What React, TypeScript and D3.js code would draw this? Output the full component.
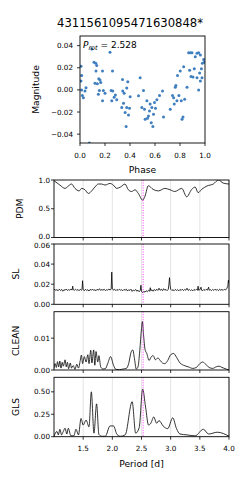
import React from 'react';
import * as d3 from 'd3';

// folded light curve: [phase, magnitude]
const phasePoints: [number, number][] = [
  [0.008, 0.0214], [0.013, 0.013], [0.008, 0.008], [0.013, 0.0], [0.019, -0.005],
  [0.027, -0.007], [0.04, -0.001], [0.048, 0.002], [0.075, -0.048], [0.094, 0.037],
  [0.112, 0.025], [0.126, 0.024], [0.134, 0.022], [0.128, 0.017], [0.12, 0.006],
  [0.139, 0.0055], [0.15, 0.01], [0.16, 0.009], [0.166, 0.0067], [0.155, -0.0006],
  [0.147, -0.004], [0.18, 0.017], [0.187, -0.0006], [0.18, -0.0098], [0.2, -0.003],
  [0.24, 0.034], [0.26, 0.017], [0.249, -0.0006], [0.262, -0.001], [0.254, -0.0098],
  [0.273, -0.0067], [0.283, -0.0046], [0.294, -0.009], [0.34, 0.0095], [0.342, -0.001],
  [0.353, -0.003], [0.374, 0.0018], [0.382, 0.0073], [0.374, -0.016], [0.348, -0.012],
  [0.334, -0.016], [0.361, -0.0205], [0.369, -0.033], [0.388, -0.0226], [0.396, -0.0165],
  [0.401, -0.0061], [0.481, 0.011], [0.468, -0.0052], [0.508, -0.0006], [0.495, -0.016],
  [0.516, -0.0174], [0.535, -0.0098], [0.521, -0.0266], [0.54, -0.0256], [0.548, -0.0235],
  [0.556, -0.019], [0.561, -0.0128], [0.575, -0.016], [0.57, -0.0296], [0.583, -0.033],
  [0.588, -0.022], [0.596, -0.0113], [0.604, -0.0165], [0.615, -0.009], [0.636, -0.005],
  [0.66, -0.001], [0.668, -0.0244], [0.722, -0.0174], [0.74, -0.005], [0.749, -0.007],
  [0.762, 0.0024], [0.767, 0.004], [0.754, -0.0128], [0.775, -0.0098], [0.791, -0.005],
  [0.802, 0.017], [0.81, -0.0098], [0.816, -0.0266], [0.824, -0.0244], [0.829, 0.0208],
  [0.837, -0.0085], [0.78, 0.013], [0.856, 0.0024], [0.869, 0.0336], [0.882, 0.0336],
  [0.896, 0.0336], [0.877, 0.0177], [0.888, 0.0122], [0.904, 0.0116], [0.914, 0.019],
  [0.922, 0.03], [0.936, 0.033], [0.949, 0.0336], [0.963, 0.0315], [0.957, 0.0153],
  [0.971, 0.019], [0.936, 0.011], [0.949, 0.0], [0.963, 0.008], [0.976, 0.011],
  [0.989, 0.0275], [0.995, 0.025], [0.979, 0.024],
];

const pdm: [number, number][] = [
  [1.0, 0.988], [1.1, 0.912], [1.19, 0.854], [1.245, 0.895], [1.3, 0.93], [1.36, 0.854],
  [1.43, 0.81], [1.475, 0.854], [1.53, 0.83], [1.59, 0.766], [1.646, 0.81], [1.7, 0.877],
  [1.76, 0.93], [1.818, 0.93], [1.874, 0.912], [1.96, 0.94], [2.017, 0.912], [2.075, 0.854],
  [2.143, 0.88], [2.217, 0.93], [2.274, 0.83], [2.33, 0.8], [2.39, 0.83], [2.445, 0.766],
  [2.52, 0.65], [2.56, 0.72], [2.617, 0.9], [2.7, 0.836], [2.79, 0.81], [2.9, 0.854],
  [2.99, 0.83], [3.07, 0.8], [3.19, 0.854], [3.275, 0.707], [3.36, 0.836], [3.42, 0.877],
  [3.47, 0.78], [3.53, 0.836], [3.62, 0.895], [3.73, 0.93], [3.82, 1.0], [3.9, 0.947],
  [4.0, 0.93],
];

const sl: [number, number][] = [
  [1.0, 0.015], [1.03, 0.014], [1.05, 0.0145], [1.07, 0.0135], [1.09, 0.015], [1.11, 0.0138],
  [1.13, 0.0148], [1.15, 0.013], [1.17, 0.0145], [1.19, 0.014], [1.21, 0.0152], [1.23, 0.0138],
  [1.25, 0.0146], [1.27, 0.014], [1.29, 0.015], [1.31, 0.0142], [1.32, 0.018], [1.33, 0.0145],
  [1.35, 0.014], [1.37, 0.015], [1.39, 0.0138], [1.41, 0.0148], [1.43, 0.0135], [1.45, 0.015],
  [1.47, 0.014], [1.48, 0.0145], [1.49, 0.0235], [1.5, 0.0145], [1.52, 0.0135], [1.54, 0.015],
  [1.56, 0.0138], [1.58, 0.0146], [1.6, 0.0132], [1.62, 0.0148], [1.64, 0.014], [1.66, 0.0152],
  [1.68, 0.0138], [1.7, 0.0145], [1.72, 0.0135], [1.74, 0.015], [1.76, 0.014], [1.78, 0.0155],
  [1.8, 0.0138], [1.82, 0.0147], [1.84, 0.014], [1.86, 0.015], [1.88, 0.0136], [1.9, 0.0145],
  [1.92, 0.014], [1.94, 0.0152], [1.96, 0.0142], [1.98, 0.015], [1.99, 0.032], [2.0, 0.016],
  [2.02, 0.014], [2.04, 0.015], [2.06, 0.0136], [2.08, 0.0148], [2.1, 0.0138], [2.12, 0.015],
  [2.14, 0.014], [2.16, 0.0145], [2.18, 0.0135], [2.2, 0.0148], [2.22, 0.014], [2.24, 0.015],
  [2.26, 0.0132], [2.28, 0.0145], [2.3, 0.0138], [2.32, 0.015], [2.34, 0.0128], [2.36, 0.0142],
  [2.38, 0.0135], [2.4, 0.0148], [2.42, 0.013], [2.44, 0.014], [2.46, 0.0125], [2.48, 0.014],
  [2.49, 0.019], [2.5, 0.013], [2.52, 0.0115], [2.54, 0.013], [2.56, 0.012], [2.58, 0.0135],
  [2.6, 0.0125], [2.62, 0.014], [2.64, 0.013], [2.65, 0.0165], [2.66, 0.0135], [2.68, 0.0145],
  [2.7, 0.013], [2.72, 0.0148], [2.74, 0.0135], [2.76, 0.015], [2.78, 0.0138], [2.8, 0.016],
  [2.82, 0.014], [2.84, 0.015], [2.86, 0.0135], [2.88, 0.0155], [2.9, 0.014], [2.92, 0.0148],
  [2.94, 0.0136], [2.96, 0.015], [2.97, 0.02], [2.98, 0.0265], [2.99, 0.019], [3.0, 0.015],
  [3.02, 0.0138], [3.04, 0.0145], [3.06, 0.0135], [3.08, 0.0148], [3.1, 0.0138], [3.12, 0.0146],
  [3.14, 0.0134], [3.16, 0.0148], [3.18, 0.0138], [3.2, 0.015], [3.22, 0.0136], [3.24, 0.0148],
  [3.26, 0.014], [3.28, 0.016], [3.3, 0.0138], [3.32, 0.0148], [3.34, 0.0136], [3.36, 0.0145],
  [3.38, 0.0134], [3.4, 0.0148], [3.42, 0.0138], [3.44, 0.015], [3.46, 0.014], [3.47, 0.018],
  [3.48, 0.014], [3.5, 0.0145], [3.52, 0.017], [3.53, 0.014], [3.55, 0.0136], [3.57, 0.0148],
  [3.59, 0.0138], [3.61, 0.015], [3.63, 0.014], [3.65, 0.017], [3.66, 0.014], [3.68, 0.0146],
  [3.7, 0.0136], [3.72, 0.0148], [3.74, 0.0138], [3.76, 0.015], [3.78, 0.014], [3.8, 0.0148],
  [3.82, 0.0136], [3.84, 0.015], [3.86, 0.014], [3.88, 0.0148], [3.9, 0.0138], [3.92, 0.015],
  [3.94, 0.0142], [3.96, 0.0155], [3.98, 0.018], [3.99, 0.024], [4.0, 0.021],
];

const clean: [number, number][] = [
  [1.0, 0.0005], [1.02, 0.002], [1.04, 0.0008], [1.06, 0.0026], [1.08, 0.001], [1.1, 0.0028],
  [1.12, 0.0006], [1.14, 0.0024], [1.16, 0.0012], [1.19, 0.0032], [1.21, 0.001], [1.23, 0.0024],
  [1.25, 0.0004], [1.28, 0.0022], [1.3, 0.0006], [1.33, 0.0014], [1.36, 0.0002], [1.39, 0.0018],
  [1.42, 0.0006], [1.45, 0.003], [1.47, 0.0047], [1.49, 0.002], [1.52, 0.0042], [1.55, 0.0025],
  [1.58, 0.0048], [1.6, 0.002], [1.63, 0.0062], [1.65, 0.0022], [1.68, 0.0063], [1.7, 0.0015],
  [1.72, 0.0058], [1.75, 0.0025], [1.77, 0.0045], [1.8, 0.001], [1.84, 0.0003], [1.88, 0.0004],
  [1.92, 0.002], [1.97, 0.0042], [2.02, 0.0015], [2.06, 0.0002], [2.12, 0.0001], [2.18, 0.0003],
  [2.24, 0.0005], [2.28, 0.002], [2.32, 0.0055], [2.35, 0.0063], [2.38, 0.0035], [2.41, 0.0003],
  [2.44, 0.001], [2.47, 0.006], [2.5, 0.013], [2.515, 0.0152], [2.535, 0.011], [2.56, 0.0065],
  [2.59, 0.0052], [2.63, 0.003], [2.67, 0.0042], [2.7, 0.0045], [2.74, 0.0032], [2.78, 0.0038],
  [2.82, 0.003], [2.86, 0.0022], [2.9, 0.002], [2.95, 0.003], [3.0, 0.0048], [3.05, 0.0052],
  [3.1, 0.004], [3.16, 0.0022], [3.22, 0.0015], [3.3, 0.001], [3.38, 0.0005], [3.44, 0.0008],
  [3.5, 0.002], [3.55, 0.0025], [3.6, 0.0018], [3.66, 0.0008], [3.72, 0.0005], [3.78, 0.001],
  [3.83, 0.0012], [3.88, 0.0008], [3.95, 0.0003], [4.0, 0.0],
];

const gls: [number, number][] = [
  [1.0, 0.005], [1.05, 0.058], [1.075, 0.02], [1.1, 0.083], [1.13, 0.02], [1.16, 0.06],
  [1.19, 0.094], [1.22, 0.03], [1.245, 0.094], [1.29, 0.01], [1.34, 0.01], [1.377, 0.083],
  [1.42, 0.02], [1.463, 0.203], [1.5, 0.13], [1.55, 0.185], [1.6, 0.11], [1.64, 0.5],
  [1.685, 0.04], [1.73, 0.366], [1.77, 0.025], [1.82, 0.005], [1.88, 0.005], [1.96, 0.12],
  [2.02, 0.12], [2.08, 0.025], [2.14, 0.005], [2.22, 0.02], [2.34, 0.39], [2.4, 0.04],
  [2.46, 0.1], [2.52, 0.53], [2.57, 0.33], [2.62, 0.13], [2.66, 0.15], [2.71, 0.22],
  [2.76, 0.15], [2.8, 0.18], [2.87, 0.12], [2.95, 0.09], [3.035, 0.21], [3.1, 0.09],
  [3.16, 0.03], [3.28, 0.02], [3.42, 0.01], [3.56, 0.083], [3.65, 0.03], [3.8, 0.05],
  [4.0, 0.005],
];

const period = 2.528;
const title = '4311561095471630848*';
const periodTicks = [1.5, 2.0, 2.5, 3.0, 3.5, 4.0];
const phaseTicks = [0, 0.2, 0.4, 0.6, 0.8, 1.0];
const magTicks = [-0.04, -0.02, 0, 0.02, 0.04];

const panels = [
  { name: 'PDM', data: pdm, domain: [0, 1], ticks: [0, 0.5, 1.0], fmt: '.1f', top: 180, bottom: 237.5, curve: d3.curveMonotoneX },
  { name: 'SL', data: sl, domain: [0, 0.06], ticks: [0, 0.02, 0.04, 0.06], fmt: '.2f', top: 244, bottom: 304.3, curve: d3.curveLinear },
  { name: 'CLEAN', data: clean, domain: [0, 0.0183], ticks: [0, 0.01], fmt: '.2f', top: 311.7, bottom: 370, curve: d3.curveMonotoneX },
  { name: 'GLS', data: gls, domain: [0, 0.662], ticks: [0, 0.25, 0.5], fmt: '.2f', top: 377.3, bottom: 436.7, curve: d3.curveMonotoneX },
];

const font = 'DejaVu Sans, sans-serif';
const tickSize = 7.2;
const minus = (s: string) => s.replace('-', '\u2212');

export default function App() {
  // phase plot
  const px = d3.scaleLinear().domain([0, 1]).range([80, 205]);
  const py = d3.scaleLinear().domain([-0.048, 0.0487]).range([143, 36]);
  // period axis shared by the four lower panels
  const x = d3.scaleLinear().domain([1, 4]).range([54, 229]);

  return (
    <svg width={249} height={480} style={{ position: 'absolute', left: 0, top: 0, background: '#fff' }} fontFamily={font}>
      <defs>
        <clipPath id="phaseClip">
          <rect x={80} y={36} width={125} height={107} />
        </clipPath>
      </defs>
      <text x={130} y={27} textAnchor="middle" fontSize={11.6}>{title}</text>

      {/* phase-folded light curve */}
      <g clipPath="url(#phaseClip)">
        {phasePoints.map((d, i) => (
          <circle key={i} cx={px(d[0])} cy={py(d[1])} r={1.5} fill="#3f7fbf" />
        ))}
      </g>
      <rect x={80} y={36} width={125} height={107} fill="none" stroke="#000" strokeWidth={0.9} />
      {phaseTicks.map((t) => (
        <g key={t}>
          <line x1={px(t)} x2={px(t)} y1={143} y2={146} stroke="#000" strokeWidth={0.8} />
          <text x={px(t)} y={158} textAnchor="middle" fontSize={tickSize}>{d3.format('.1f')(t)}</text>
        </g>
      ))}
      {magTicks.map((t) => (
        <g key={t}>
          <line x1={77} x2={80} y1={py(t)} y2={py(t)} stroke="#000" strokeWidth={0.8} />
          <text x={73} y={py(t) + 2.6} textAnchor="end" fontSize={tickSize}>{minus(d3.format('.2f')(t))}</text>
        </g>
      ))}
      <text transform={`translate(39,${(36 + 143) / 2}) rotate(-90)`} textAnchor="middle" fontSize={9.2}>Magnitude</text>
      <text x={(80 + 205) / 2} y={173} textAnchor="middle" fontSize={9.2}>Phase</text>
      <text x={83} y={48} fontSize={9}>
        <tspan fontStyle="italic">P</tspan>
        <tspan fontStyle="italic" fontSize={6.5} dy={2}>rot</tspan>
        <tspan dy={-2}> = 2.528</tspan>
      </text>

      {/* periodograms */}
      {panels.map((p, pi) => {
        const y = d3.scaleLinear().domain(p.domain).range([p.bottom, p.top]);
        const line = d3.line<[number, number]>().x((d) => x(d[0])).y((d) => y(d[1])).curve(p.curve);
        const clipId = `clip-${p.name}`;
        // keep labels at the PDM/SL seam from touching
        const nudge = (t: number) => {
          if (pi === 0 && t === p.domain[0]) return -1.2;
          if (pi === 1 && t === p.domain[1]) return 1.2;
          return 0;
        };
        return (
          <g key={p.name}>
            <clipPath id={clipId}>
              <rect x={54} y={p.top} width={175} height={p.bottom - p.top} />
            </clipPath>
            {periodTicks.map((t) => (
              <line key={t} x1={x(t)} x2={x(t)} y1={p.top} y2={p.bottom} stroke="#dcdcdc" strokeWidth={0.8} />
            ))}
            <g clipPath={`url(#${clipId})`}>
              <path d={line(p.data) || ''} fill="none" stroke="#000" strokeWidth={0.8} />
            </g>
            <line x1={x(period)} x2={x(period)} y1={p.top} y2={p.bottom} stroke="#ff33ff" strokeWidth={1} strokeDasharray="1,1.5" />
            <rect x={54} y={p.top} width={175} height={p.bottom - p.top} fill="none" stroke="#000" strokeWidth={0.9} />
            {periodTicks.map((t) => (
              <line key={t} x1={x(t)} x2={x(t)} y1={p.bottom} y2={p.bottom + 3} stroke="#000" strokeWidth={0.8} />
            ))}
            {p.ticks.map((t) => (
              <g key={t}>
                <line x1={51} x2={54} y1={y(t)} y2={y(t)} stroke="#000" strokeWidth={0.8} />
                <text x={50} y={y(t) + 2.6 + nudge(t)} textAnchor="end" fontSize={tickSize}>{d3.format(p.fmt)(t)}</text>
              </g>
            ))}
            <text transform={`translate(${p.name === 'PDM' ? 23 : 19},${(p.top + p.bottom) / 2}) rotate(-90)`} textAnchor="middle" fontSize={9.2}>{p.name}</text>
          </g>
        );
      })}
      {periodTicks.map((t) => (
        <text key={t} x={x(t)} y={451} textAnchor="middle" fontSize={tickSize}>{d3.format('.1f')(t)}</text>
      ))}
      <text x={(54 + 229) / 2} y={467} textAnchor="middle" fontSize={9.2}>Period [d]</text>
    </svg>
  );
}
